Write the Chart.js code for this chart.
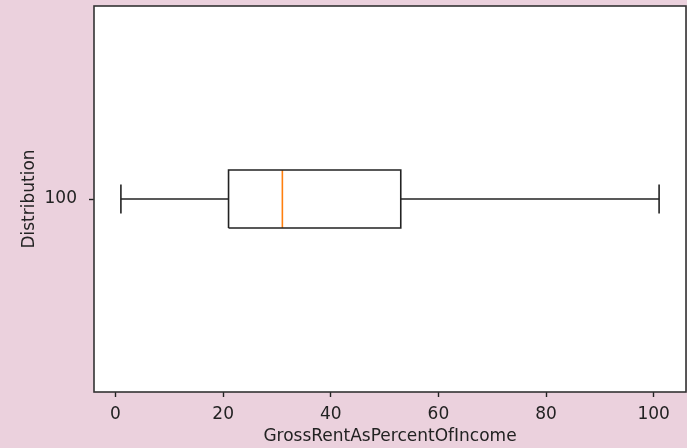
<!DOCTYPE html>
<html>
<head>
<meta charset="utf-8">
<script src="https://cdn.jsdelivr.net/npm/chart.js@4"></script>
<style>
  html, body { margin: 0; padding: 0; background: #ebd1dd; }
  #wrap { width: 687px; height: 448px; }
</style>
</head>
<body>
<div id="wrap"><canvas id="boxChart"></canvas></div>
<script>
// values
const categories = [100];          // y position of the single box
const whiskerLow = [1];
const q1 = [21];
const median = [31];
const q3 = [53];
const whiskerHigh = [101];

const xTicks = [0, 20, 40, 60, 80, 100];
const yTicks = [100];

const boxWidth = 0.15;            // matplotlib default for one box
const boxHalf = boxWidth / 2;
const capHalf = boxWidth / 4;

function seg(points, color) {
    return {
        data: points,
        showLine: true,
        borderColor: color,
        borderWidth: 1.6,
        pointRadius: 0,
        pointHoverRadius: 0,
        fill: false,
        tension: 0
    };
}

// build the box plot pieces from the arrays
const datasets = [];
categories.forEach((pos, i) => {
    // box
    datasets.push(seg([
        { x: q1[i], y: pos - boxHalf },
        { x: q3[i], y: pos - boxHalf },
        { x: q3[i], y: pos + boxHalf },
        { x: q1[i], y: pos + boxHalf },
        { x: q1[i], y: pos - boxHalf }
    ], '#222'));
    // whiskers
    datasets.push(seg([{ x: whiskerLow[i], y: pos }, { x: q1[i], y: pos }], '#222'));
    datasets.push(seg([{ x: q3[i], y: pos }, { x: whiskerHigh[i], y: pos }], '#222'));
    // caps
    datasets.push(seg([{ x: whiskerLow[i], y: pos - capHalf }, { x: whiskerLow[i], y: pos + capHalf }], '#222'));
    datasets.push(seg([{ x: whiskerHigh[i], y: pos - capHalf }, { x: whiskerHigh[i], y: pos + capHalf }], '#222'));
    // median
    datasets.push(seg([{ x: median[i], y: pos - boxHalf }, { x: median[i], y: pos + boxHalf }], '#ff7f0e'));
});

// white axes face + frame on all four sides
const frame = {
    id: 'frame',
    beforeDatasetsDraw(chart) {
        const a = chart.chartArea, ctx = chart.ctx;
        ctx.save();
        ctx.fillStyle = '#fff';
        ctx.fillRect(a.left, a.top, a.right - a.left, a.bottom - a.top);
        ctx.restore();
    },
    afterDatasetsDraw(chart) {
        const a = chart.chartArea, ctx = chart.ctx;
        ctx.save();
        ctx.strokeStyle = '#333';
        ctx.lineWidth = 1.6;
        ctx.strokeRect(a.left, a.top, a.right - a.left, a.bottom - a.top);
        ctx.restore();
    }
};

const font = { family: 'DejaVu Sans', size: 17 };

new Chart(document.getElementById('boxChart'), {
    type: 'scatter',
    data: { datasets: datasets },
    options: {
        responsive: true,
        maintainAspectRatio: false,
        animation: false,
        events: [],
        layout: { padding: { left: 0, right: 1, top: 6, bottom: 0 } },
        plugins: { legend: { display: false }, tooltip: { enabled: false } },
        scales: {
            x: {
                type: 'linear',
                min: -4,
                max: 106,
                afterBuildTicks: (axis) => { axis.ticks = xTicks.map(v => ({ value: v })); },
                afterFit: (axis) => { axis.height = 56; axis.paddingLeft = 0; axis.paddingRight = 0; },
                grid: { drawOnChartArea: false, drawTicks: true, tickLength: 5, tickWidth: 1.4, color: '#222' },
                border: { display: false },
                ticks: { color: '#222', font: font, padding: 7, maxRotation: 0 },
                title: { display: true, text: 'GrossRentAsPercentOfIncome', color: '#222', font: font, padding: { top: 2, bottom: 1 } }
            },
            y: {
                type: 'linear',
                min: 99.5,
                max: 100.5,
                afterBuildTicks: (axis) => { axis.ticks = yTicks.map(v => ({ value: v })); },
                afterFit: (axis) => { axis.width = 94; axis.paddingTop = 0; axis.paddingBottom = 0; },
                grid: { drawOnChartArea: false, drawTicks: true, tickLength: 5, tickWidth: 1.4, color: '#222' },
                border: { display: false },
                ticks: { color: '#222', font: font, padding: 12 },
                title: { display: true, text: 'Distribution', color: '#222', font: font, padding: { top: 19, bottom: 0 } }
            }
        }
    },
    plugins: [frame]
});
</script>
</body>
</html>
